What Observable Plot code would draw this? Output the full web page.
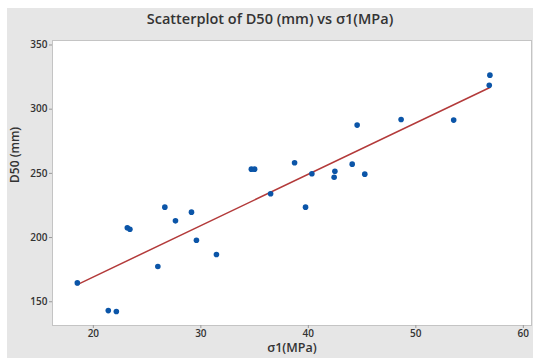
<!DOCTYPE html>
<html>
<head>
<meta charset="utf-8">
<script src="https://cdn.jsdelivr.net/npm/d3@7"></script>
<script src="https://cdn.jsdelivr.net/npm/@observablehq/plot@0.6"></script>
<style>
  body { margin: 0; background: #fff; }
  #panel { position: absolute; left: 7px; top: 8px; width: 526px; height: 350px; background: #e6e6e6; overflow: hidden; }
  #title { height: 30px; line-height: 21px; text-align: center; font-family: "Open Sans", sans-serif; font-size: 14.5px; font-weight: 600; color: #333; }
  svg { display: block; }
</style>
</head>
<body>
<div id="panel">
  <div id="title">Scatterplot of D50 (mm) vs σ1(MPa)</div>
  <div id="chart"></div>
</div>
<script>
const sigma1 = [18.51, 21.39, 22.14, 23.16, 23.40, 26.0, 26.65, 27.64, 29.13, 29.59, 31.45, 34.70, 35.0, 36.49, 38.72, 40.33, 39.74, 42.47, 42.40, 44.08, 44.54, 45.25, 48.63, 53.52, 56.89, 56.83];
const d50    = [164.7, 143.1, 142.4, 207.6, 206.5, 177.4, 223.7, 213.0, 219.8, 197.9, 186.8, 253.3, 253.3, 234.1, 258.3, 249.7, 223.7, 251.7, 247.0, 257.2, 287.6, 249.4, 292.0, 291.5, 326.5, 318.7];
const xTicks = [20, 30, 40, 50, 60];
const yTicks = [150, 200, 250, 300, 350];

const data = sigma1.map((s, i) => ({sigma1: s, d50: d50[i]}));

const chart = Plot.plot({
  width: 526,
  height: 320,
  marginLeft: 45,
  marginRight: 2,
  marginTop: 2,
  marginBottom: 33,
  style: { background: "transparent", fontFamily: "Open Sans, sans-serif", color: "#333" },
  x: { domain: [16.2, 60.76] },
  y: { domain: [131.5, 353.5] },
  marks: [
    Plot.frame({ fill: "white", stroke: "#c4c4c4" }),
    Plot.axisX({ ticks: xTicks, tickSize: 3, tickPadding: 1, stroke: "#999", fontSize: 10, fontWeight: 600, label: null }),
    Plot.axisY({ ticks: yTicks, tickSize: 3, tickPadding: 2, stroke: "#999", fontSize: 10, fontWeight: 600, label: null }),
    Plot.text(["σ1(MPa)"], { frameAnchor: "bottom", dy: 26.5, fontSize: 12.5, fontWeight: 600, fill: "#333", text: d => d }),
    Plot.text(["D50 (mm)"], { frameAnchor: "left", dx: -37, rotate: -90, fontSize: 12, fontWeight: 600, fill: "#333", text: d => d }),
    Plot.linearRegressionY(data, { x: "sigma1", y: "d50", ci: 0, stroke: "#b33a3a", strokeWidth: 1.5 }),
    Plot.dot(data, { x: "sigma1", y: "d50", r: 2.8, fill: "#0b55a8", stroke: "none" })
  ]
});
document.getElementById("chart").appendChild(chart);
</script>
</body>
</html>
